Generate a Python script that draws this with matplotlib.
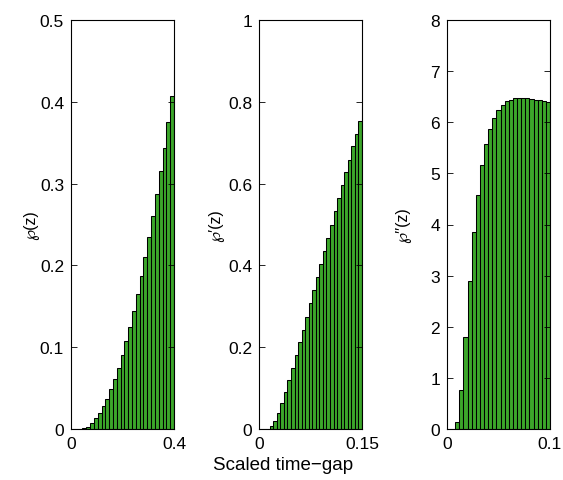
import numpy as np
import matplotlib
matplotlib.use("Agg")
import matplotlib.pyplot as plt

plt.rcParams['font.family'] = ['Liberation Sans', 'DejaVu Sans']

# bar heights (left edge of each bin from 0 upwards)
wp = [0, 0, 0, 0.001, 0.003, 0.007, 0.013, 0.020, 0.028, 0.037, 0.049, 0.061,
      0.075, 0.090, 0.107, 0.125, 0.144, 0.165, 0.187, 0.210, 0.235, 0.260,
      0.287, 0.315, 0.344, 0.375, 0.407, 0.439]
wp1 = [0, 0, 0.001, 0.007, 0.020, 0.039, 0.064, 0.091, 0.120, 0.149, 0.181,
       0.212, 0.243, 0.275, 0.307, 0.339, 0.371, 0.403, 0.436, 0.468, 0.500,
       0.533, 0.565, 0.597, 0.629, 0.658, 0.693, 0.722, 0.753, 0.790]
wp2 = [0, 0, 0.13, 0.77, 1.80, 2.90, 3.85, 4.58, 5.17, 5.58, 5.87, 6.09, 6.23,
       6.34, 6.41, 6.44, 6.47, 6.48, 6.48, 6.47, 6.46, 6.44, 6.43, 6.41, 6.39,
       6.37]

xmax = [0.4, 0.15, 0.1]
nbins = [27, 29, 25]
ymax = [0.5, 1, 8]
yticks = [[0, 0.1, 0.2, 0.3, 0.4, 0.5],
          [0, 0.2, 0.4, 0.6, 0.8, 1],
          [0, 1, 2, 3, 4, 5, 6, 7, 8]]
ytick_labels = [['0', '0.1', '0.2', '0.3', '0.4', '0.5'],
                ['0', '0.2', '0.4', '0.6', '0.8', '1'],
                ['0', '1', '2', '3', '4', '5', '6', '7', '8']]
xtick_labels = [['0', '0.4'], ['0', '0.15'], ['0', '0.1']]
ylabels = ['\u2118(z)', '\u2118\u2032(z)', '\u2118\u2032\u2032(z)']

green = '#3ca62a'

fig = plt.figure(figsize=(5.63, 4.81), dpi=100)
lefts = [71, 259, 447]
label_off = [32, 35, 36]   # px from the left spine to the ylabel
for k, heights in enumerate([wp, wp1, wp2]):
    ax = fig.add_axes([lefts[k] / 563, 51 / 481, 103 / 563, 409 / 481])
    h = xmax[k] / nbins[k]
    x = np.arange(len(heights)) * h
    ax.bar(x, heights, width=h, align='edge', color=green,
           edgecolor='black', linewidth=0.75)
    ax.set_xlim(0, xmax[k])
    ax.set_ylim(0, ymax[k])
    ax.set_xticks([0, xmax[k]])
    ax.set_xticklabels(xtick_labels[k])
    ax.set_yticks(yticks[k])
    ax.set_yticklabels(ytick_labels[k])
    ax.tick_params(direction='in', length=4, width=0.6, labelsize=12.5,
                   top=True, right=True, pad=5)
    ax.set_ylabel(ylabels[k], fontsize=11.5)
    ax.yaxis.set_label_coords(-label_off[k] / 103, 0.5)
    for s in ax.spines.values():
        s.set_linewidth(0.8)

fig.text(283 / 563, 15 / 481, 'Scaled time\u2212gap', ha='center',
         va='center', fontsize=13.5)

fig.savefig('out.png', dpi=100)
